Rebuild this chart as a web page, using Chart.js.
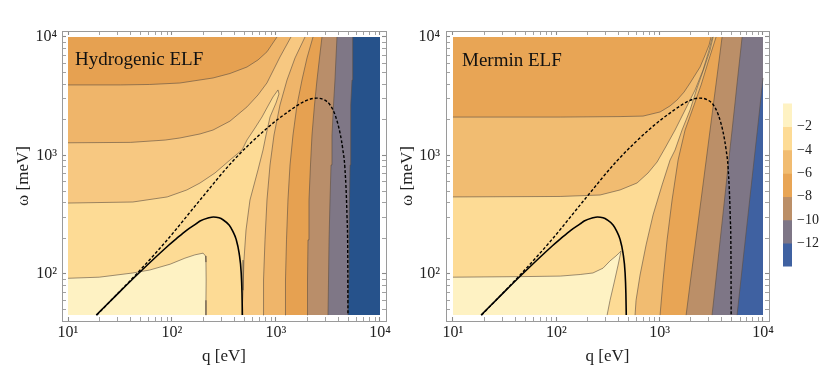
<!DOCTYPE html>
<html>
<head>
<meta charset="utf-8">
<script src="https://cdn.jsdelivr.net/npm/chart.js@4.4.1/dist/chart.umd.min.js"></script>
<style>
  body { margin: 0; background: #fff; width: 830px; height: 383px; overflow: hidden; position: relative; }
  .box { position: absolute; }
</style>
</head>
<body>
<div class="box" style="left:0;top:0;width:400px;height:383px"><canvas id="hydro"></canvas></div>
<div class="box" style="left:396px;top:0;width:387px;height:383px"><canvas id="mermin"></canvas></div>
<div class="box" style="left:775px;top:90px;width:55px;height:190px"><canvas id="cbar"></canvas></div>
<script>
// plotted region (q in eV, omega in meV)
const qRange = [10, 10000];
const wRange = [45, 10000];

// tick positions
const qTicks = [10, 20, 30, 40, 50, 60, 70, 80, 90, 100, 200, 300, 400, 500, 600, 700, 800, 900,
  1000, 2000, 3000, 4000, 5000, 6000, 7000, 8000, 9000, 10000];
const wTicks = [50, 60, 70, 80, 90, 100, 200, 300, 400, 500, 600, 700, 800, 900,
  1000, 2000, 3000, 4000, 5000, 6000, 7000, 8000, 9000, 10000];
const cbarTicks = [-12, -10, -8, -6, -4, -2];
const cbarLevels = [0, -2, -4, -6, -8, -10, -12, -14];

// black curves (same in both panels)
const solidCurve = [[18.7, 45], [30, 68], [47, 100], [89, 169], [109, 197], [139, 235], [170, 265], [186, 280],
  [226, 298], [250, 303], [283, 298], [309, 287], [354, 259], [386, 228], [414, 196], [442, 150],
  [463, 102], [471, 69], [475, 45]];
const dashedCurve = [[18.9, 45], [47, 103], [90, 194], [186, 421], [386, 900], [819, 1700], [1364, 2400],
  [1900, 2880], [2450, 3050], [2900, 2950], [3300, 2680], [3700, 2200], [4120, 1560], [4400, 1110],
  [4600, 780], [4820, 300], [4900, 130], [4920, 45]];

// Hydrogenic ELF contours
const hBubble = [[10, 92], [20, 94], [42, 102], [61, 108], [96, 121], [133, 136], [166, 145], [199, 150],
  [210, 142], [212, 126], [213, 89], [212, 60], [212, 45]];
const hTongue = [[10, 397], [42, 405], [90, 447], [139, 512], [186, 586], [259, 712], [361, 916], [471, 1112],
  [526, 1351], [628, 1707], [733, 2113], [837, 2617], [935, 3118], [1045, 3574], [1069, 3304], [1000, 2773],
  [876, 2113], [802, 1489], [750, 1112], [671, 755], [562, 421], [515, 235], [492, 131], [482, 73], [471, 45]];
const hLevel3Top = [[10, 1280], [40, 1290], [86, 1350], [119, 1405], [186, 1520], [248, 1640], [361, 1950],
  [526, 2570], [671, 3240], [819, 4100], [1092, 6780], [1393, 10000]];
const hLevel4Top = [[10, 3940], [32, 3940], [61, 3975], [119, 4090], [248, 4510], [361, 4920], [526, 5580],
  [671, 6400], [819, 7500], [1022, 10000]];
const hSideW = [45, 89, 194, 421, 832, 1489, 2667, 4335, 6653, 10000];
const hSide3 = [750, 759, 784, 819, 876, 957, 1092, 1276, 1524, 1901];
const hSide4 = [1221, 1234, 1262, 1303, 1364, 1457, 1592, 1778, 1987, 2269];
const hSide5 = [1987, 2009, 2031, 2076, 2146, 2219, 2345, 2478, 2619, 2768];
const hSide6 = [3162, 3199, 3236, 3307, 3381, 3455, 3571, 3690, 3773, 3859];
const hSide7 = [4921, 4975, 5030, 5087, 5150, 5200, 5260, 5380, 5440, 5500];
const hydroColors = ['#FEF2C3', '#FDDB95', '#F7C881', '#EFB56A', '#E6A151', '#B98E6A', '#7F7786', '#26528B'];

// Mermin ELF contours
const mBubble = [[10, 94], [45, 95], [109, 96], [170, 99], [226, 102], [283, 112], [331, 129], [378, 142],
  [423, 156], [396, 119], [362, 84], [331, 60], [310, 45]];
const mTongue = [[10, 447], [109, 451], [265, 464], [414, 512], [604, 586], [772, 712], [944, 881], [1128, 1156],
  [1409, 1641], [1762, 2420], [2203, 3574], [2633, 5275], [3008, 7766], [3216, 9808], [3290, 10000],
  [3076, 7766], [2692, 5470], [2301, 3715], [1970, 2420], [1647, 1641], [1409, 1112], [1261, 916],
  [1055, 564], [863, 315], [739, 176], [646, 98], [591, 60], [578, 45]];
const mLevel3Top = [[10, 2110], [109, 2110], [414, 2130], [690, 2150], [1009, 2330], [1261, 2620], [1474, 2940],
  [1722, 3430], [1970, 4090], [2203, 4780], [2461, 5580], [2756, 7050], [3008, 8560], [3145, 10000]];
const mSideW = [45, 89, 194, 421, 916, 1641, 2667, 3936, 6152, 10000];
const mSide3 = [1009, 1079, 1180, 1319, 1508, 1762, 2153, 2518, 2943, 3516];
const mSide4 = [1803, 1991, 2238, 2514, 2821, 3076, 3305, 3502, 3744, 4018];
const mSide5 = [3214, 3500, 3853, 4240, 4665, 5023, 5335, 5590, 5910, 6280];
const mBlue = [[5610, 45], [6110, 89], [6740, 194], [7430, 421], [8200, 916], [8830, 1641], [9380, 2667], [10000, 4510]];
const merminColors = ['#FEF2C3', '#FDDB95', '#F1BC71', '#E8A555', '#BB8F68', '#7E7686', '#3F61A1'];

const FONT = "'Liberation Serif', 'Times New Roman', serif";
const SUP = {1: '\u00B9', 2: '\u00B2', 3: '\u00B3', 4: '\u2074'};

const L = qRange[0], R = qRange[1], B = wRange[0], T = wRange[1];
const pairs = (xs, ys) => xs.map((x, i) => [x, ys[i]]);
const toXY = pts => pts.map(([x, y]) => ({x, y}));
const fullRect = [[L, B], [R, B], [R, T], [L, T]];
const outside = pts => pts.concat([[R, B], [R, T], [L, T]]);
const topLeft = pts => pts.concat([[L, T]]);
const rightOf = pts => pts.concat([[R, T], [R, B]]);

function powLabel(v) {
  const e = Math.log10(v);
  if (Math.abs(e - Math.round(e)) > 1e-9) return '';
  return '10' + SUP[Math.round(e)];
}
const setTicks = values => scale => {
  scale.ticks = values.map(v => ({value: v, major: powLabel(v) !== ''}));
};

function area(points, color, order) {
  return {data: toXY(points), backgroundColor: color, borderWidth: 0, borderColor: 'transparent',
    fill: 'shape', pointRadius: 0, tension: 0, order: order, xAxisID: 'x', yAxisID: 'y'};
}
function contour(points) {
  return {data: toXY(points), borderColor: 'rgba(90,78,66,0.75)', borderWidth: 0.8, fill: false,
    pointRadius: 0, tension: 0, order: 10, xAxisID: 'x', yAxisID: 'y'};
}
function curves() {
  return [
    {data: toXY(solidCurve), borderColor: '#000', borderWidth: 1.6, cubicInterpolationMode: 'monotone',
      fill: false, pointRadius: 0, order: 2, xAxisID: 'x', yAxisID: 'y'},
    {data: toXY(dashedCurve), borderColor: '#000', borderWidth: 1.4, borderDash: [3, 2],
      cubicInterpolationMode: 'monotone', fill: false, pointRadius: 0, order: 1, xAxisID: 'x', yAxisID: 'y'}
  ];
}

function axis(position, range, ticks, size, labels, title) {
  return {
    type: 'logarithmic', position: position, min: range[0], max: range[1], bounds: 'data',
    afterBuildTicks: setTicks(ticks),
    afterFit: s => { if (s.isHorizontal()) s.height = size; else s.width = size; },
    border: {display: true, color: '#9a9a9a', width: 1},
    grid: {drawOnChartArea: false, drawTicks: true, tickLength: -4, tickColor: '#8a8a8a',
      tickWidth: c => (c.tick && c.tick.major ? 1.1 : 0.8)},
    ticks: labels ? Object.assign({display: true, autoSkip: false, maxRotation: 0, callback: v => powLabel(v),
      font: {family: FONT, size: 16}, color: '#222'}, labels) : {display: false},
    title: title ? Object.assign({display: true, font: {family: FONT, size: 17}, color: '#222'}, title) : {display: false}
  };
}

const panelLabel = {
  id: 'panelLabel',
  afterDatasetsDraw(chart, args, opts) {
    const {ctx, chartArea} = chart;
    ctx.save();
    ctx.font = '19px ' + FONT;
    ctx.fillStyle = '#111';
    ctx.textBaseline = 'alphabetic';
    ctx.fillText(opts.text, chartArea.left + opts.dx, chartArea.top + opts.dy);
    ctx.restore();
  }
};

function panel(id, layers, lines, xr, sizes, label, yTitlePad, yLabelPad) {
  const datasets = layers.map(([pts, col], i) => area(pts, col, 100 - i))
    .concat(lines.map(contour))
    .concat(curves());
  return new Chart(document.getElementById(id), {
    type: 'line',
    data: {datasets: datasets},
    plugins: [panelLabel],
    options: {
      animation: false, responsive: true, maintainAspectRatio: false, events: [],
      layout: {padding: 0},
      plugins: {legend: {display: false}, tooltip: {enabled: false}, panelLabel: label},
      scales: {
        x: axis('bottom', xr, qTicks, 62, {padding: 6}, {text: 'q [eV]', padding: {top: 0, bottom: 16}}),
        x2: axis('top', xr, qTicks, 31),
        y: axis('left', [40.12, 11235], wTicks, sizes[0], {padding: yLabelPad}, {text: '\u03C9 [meV]', padding: {top: yTitlePad, bottom: 0}}),
        y2: axis('right', [40.12, 11235], wTicks, sizes[1])
      }
    }
  });
}

// Hydrogenic panel
panel('hydro', [
  [fullRect, hydroColors[0]],
  [outside(hBubble), hydroColors[1]],
  [outside(hTongue), hydroColors[2]],
  [topLeft(hLevel3Top), hydroColors[3]],
  [rightOf(pairs(hSide3, hSideW)), hydroColors[3]],
  [topLeft(hLevel4Top), hydroColors[4]],
  [rightOf(pairs(hSide4, hSideW)), hydroColors[4]],
  [rightOf(pairs(hSide5, hSideW)), hydroColors[5]],
  [rightOf(pairs(hSide6, hSideW)), hydroColors[6]],
  [rightOf(pairs(hSide7, hSideW)), hydroColors[7]]
], [hBubble, hTongue, hLevel3Top, pairs(hSide3, hSideW), hLevel4Top, pairs(hSide4, hSideW),
  pairs(hSide5, hSideW), pairs(hSide6, hSideW), pairs(hSide7, hSideW)],
[8.756, 11421], [62, 14], {text: 'Hydrogenic ELF', dx: 13, dy: 34}, 13, 9);

// Mermin panel
panel('mermin', [
  [fullRect, merminColors[0]],
  [outside(mBubble), merminColors[1]],
  [outside(mTongue), merminColors[2]],
  [topLeft(mLevel3Top), merminColors[3]],
  [rightOf(pairs(mSide3, mSideW)), merminColors[3]],
  [rightOf(pairs(mSide4, mSideW)), merminColors[4]],
  [rightOf(pairs(mSide5, mSideW)), merminColors[5]],
  [mBlue.concat([[R, B]]), merminColors[6]]
], [mBubble, mTongue, mLevel3Top, pairs(mSide3, mSideW), pairs(mSide4, mSideW), pairs(mSide5, mSideW), mBlue],
[8.556, 11432], [50, 14], {text: 'Mermin ELF', dx: 16, dy: 35}, 1, 10);

// colour bar
new Chart(document.getElementById('cbar'), {
  type: 'bar',
  data: {
    labels: [''],
    datasets: merminColors.map((c, i) => ({
      data: [[cbarLevels[i + 1], cbarLevels[i]]], backgroundColor: c, borderWidth: 0,
      barPercentage: 1, categoryPercentage: 1, grouped: false
    }))
  },
  options: {
    animation: false, responsive: true, maintainAspectRatio: false, events: [],
    layout: {padding: {left: 8, top: 9, bottom: 8, right: 0}},
    plugins: {legend: {display: false}, tooltip: {enabled: false}},
    scales: {
      x: {display: false},
      y: {
        position: 'right', min: -14, max: 0, z: 1,
        afterBuildTicks: s => { s.ticks = cbarTicks.map(v => ({value: v})); },
        afterFit: s => { s.width = 38; },
        border: {display: false},
        grid: {drawOnChartArea: true, drawTicks: false, color: 'rgba(85,65,45,0.6)', lineWidth: 1},
        ticks: {callback: v => '\u2212' + Math.abs(v), padding: 5, font: {family: FONT, size: 14}, color: '#222'}
      }
    }
  }
});
</script>
</body>
</html>
